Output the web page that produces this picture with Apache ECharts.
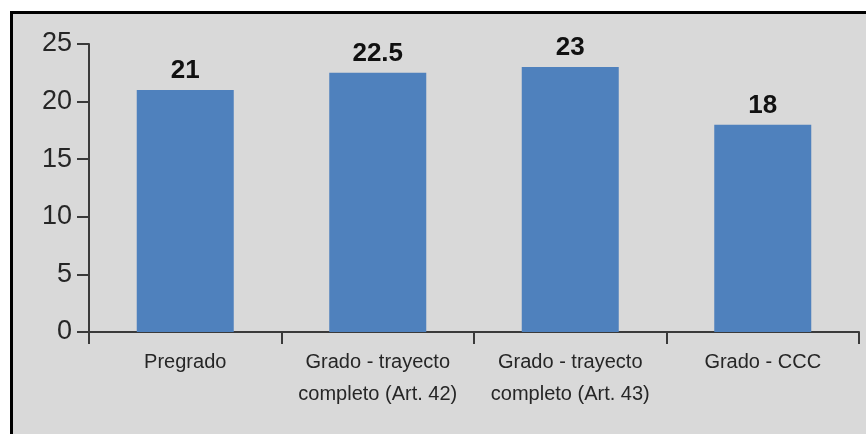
<!DOCTYPE html>
<html>
<head>
<meta charset="utf-8">
<script src="https://cdn.jsdelivr.net/npm/echarts@6/dist/echarts.min.js"></script>
<style>
  html, body { margin: 0; padding: 0; background: #fff; }
  #chart { width: 866px; height: 434px; }
</style>
</head>
<body>
<div id="chart"></div>
<script>
const categories = [
  'Pregrado',
  'Grado - trayecto\ncompleto (Art. 42)',
  'Grado - trayecto\ncompleto (Art. 43)',
  'Grado - CCC'
]
const values = [21, 22.5, 23, 18]
const yTicks = { min: 0, max: 25, interval: 5 }

const FONT = "'Liberation Sans', Arial, sans-serif"

let chart = echarts.init(document.getElementById('chart'))

let option = {
  backgroundColor: '#ffffff',
  animation: false,
  // gray panel with black frame (left/top visible)
  graphic: [{
    type: 'rect',
    z: -10,
    silent: true,
    shape: { x: 11.5, y: 12.5, width: 900, height: 500 },
    style: { fill: '#d9d9d9', stroke: '#000', lineWidth: 3 }
  }],
  grid: {
    left: 89,
    right: 7,
    top: 44,
    bottom: 102
  },
  xAxis: {
    type: 'category',
    data: categories,
    axisLine: { lineStyle: { color: '#3a3a3a', width: 2 } },
    axisTick: { show: true, length: 12, lineStyle: { color: '#3a3a3a', width: 2 } },
    axisLabel: {
      margin: 14,
      color: '#262626',
      fontFamily: FONT,
      fontSize: 20,
      lineHeight: 32,
      interval: 0
    }
  },
  yAxis: {
    type: 'value',
    min: yTicks.min,
    max: yTicks.max,
    interval: yTicks.interval,
    splitLine: { show: false },
    axisLine: { show: true, lineStyle: { color: '#3a3a3a', width: 2 } },
    axisTick: { show: true, length: 12, lineStyle: { color: '#3a3a3a', width: 2 } },
    axisLabel: {
      margin: 17,
      color: '#262626',
      fontFamily: FONT,
      fontSize: 27
    }
  },
  series: [{
    type: 'bar',
    data: values,
    barWidth: 97,
    itemStyle: { color: '#4f81bd' },
    label: {
      show: true,
      position: 'top',
      distance: 6,
      color: '#111',
      fontFamily: FONT,
      fontWeight: 'bold',
      fontSize: 26
    }
  }]
}

chart.setOption(option)
</script>
</body>
</html>
